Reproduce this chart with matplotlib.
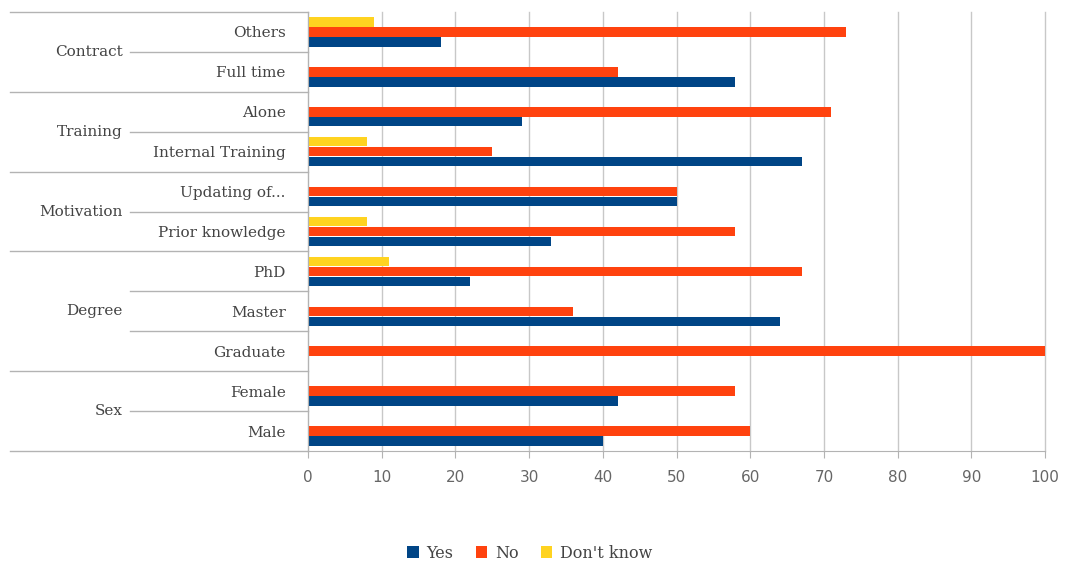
import numpy as np
import matplotlib.pyplot as plt

categories = ["Male", "Female", "Graduate", "Master", "PhD", "Prior knowledge",
              "Updating of...", "Internal Training", "Alone", "Full time", "Others"]
groups = ["Sex", "Degree", "Motivation", "Training", "Contract"]
group_sizes = [2, 3, 2, 2, 2]
yes = [40, 42, 0, 64, 22, 33, 50, 67, 29, 58, 18]
no = [60, 58, 100, 36, 67, 58, 50, 25, 71, 42, 73]
dont_know = [0, 0, 0, 0, 11, 8, 0, 8, 0, 0, 9]

serif = "DejaVu Serif"
fig = plt.figure(figsize=(10.65, 5.68), dpi=100)
ax = fig.add_axes([308/1065, 1-451/568, 737/1065, 439/568])

y = np.arange(len(categories))
h = 0.25
ax.barh(y - h, yes, height=h*0.95, color="#004586", label="Yes")
ax.barh(y, no, height=h*0.95, color="#ff420e", label="No")
ax.barh(y + h, dont_know, height=h*0.95, color="#ffd320", label="Don't know")

ax.set_xlim(0, 100)
ax.set_ylim(-0.5, len(categories) - 0.5)
ax.set_xticks(np.arange(0, 101, 10))
ax.xaxis.grid(True, color="#c8c8c8", linewidth=1)
for gl in ax.get_xgridlines():
    gl.set_clip_on(False)
ax.set_axisbelow(True)
ax.tick_params(axis="x", colors="#b3b3b3", length=5, pad=9, labelcolor="#666666", labelsize=11)
ax.set_yticks(y)
ax.set_yticklabels(categories, fontfamily=serif, fontsize=11, color="#444444")
ax.tick_params(axis="y", length=0, pad=16)
for s in ["top", "right"]:
    ax.spines[s].set_visible(False)
for s in ["left", "bottom"]:
    ax.spines[s].set_color("#b3b3b3")

# hierarchical axis lines and group labels
tr = ax.get_yaxis_transform()
x_far = (10 - 308) / 737
x_near = (130 - 308) / 737
start = -0.5
for g, n in zip(groups, group_sizes):
    ax.plot([x_far, 0], [start, start], transform=tr, color="#b3b3b3", lw=1, clip_on=False)
    for k in range(1, n):
        ax.plot([x_near, 0], [start + k, start + k], transform=tr, color="#b3b3b3", lw=1, clip_on=False)
    ax.text((123 - 308) / 737, start + n / 2, g, transform=tr, ha="right", va="center",
            fontfamily=serif, fontsize=11, color="#444444")
    start += n
ax.plot([x_far, 0], [start, start], transform=tr, color="#b3b3b3", lw=1, clip_on=False)

fig.legend(loc="center", bbox_to_anchor=(530/1065, 1 - 553/568), ncol=3, frameon=False,
           prop={"family": serif, "size": 11.5}, handlelength=0.7, handleheight=0.7,
           handletextpad=0.5, columnspacing=1.4, labelcolor="#444444")

fig.savefig("out.png", dpi=100)
